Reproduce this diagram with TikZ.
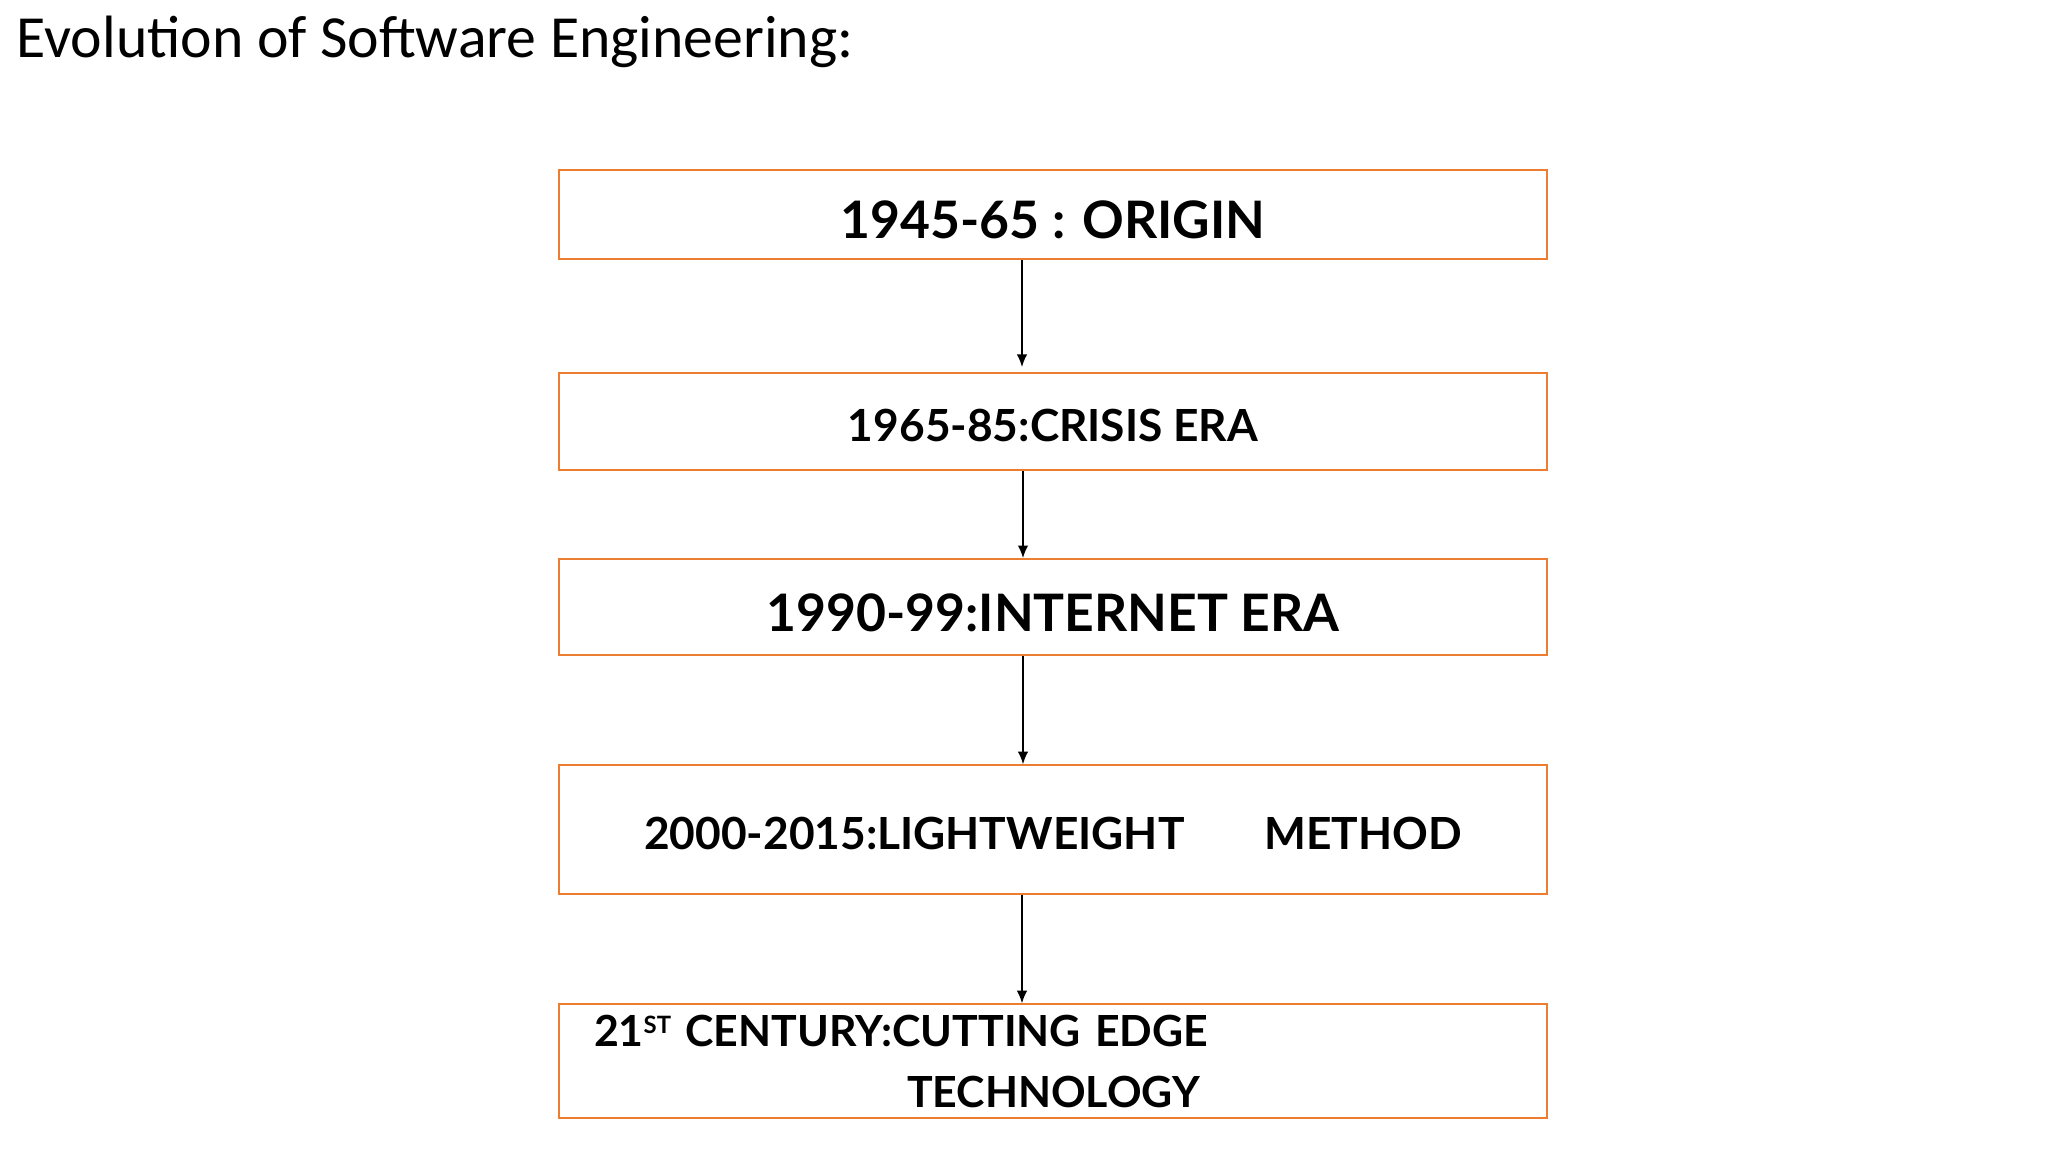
\documentclass[tikz,border=0pt]{standalone}
\usepackage{fontspec}
\setmainfont{Lato}
\newfontfamily\titlefont{Carlito}
\usetikzlibrary{positioning,arrows.meta}
\definecolor{eraorange}{HTML}{ED7D31}
\tikzstyle{era} = [rectangle, draw=eraorange, line width=0.6pt,
    minimum width=9.88cm, inner sep=0pt, text centered]
\tikzstyle{oneline} = [era, text height=0.48cm, text depth=0pt]
\tikzstyle{link} = [draw, -{Latex[length=3.6pt,width=3pt]}, line width=0.5pt]

\begin{document}
\begin{tikzpicture}
    \useasboundingbox (0,0) rectangle (20.48,-11.52);
    \node[anchor=base west, inner sep=0pt] (title) at (0.16,-0.58)
        {\titlefont\fontsize{17}{20}\selectfont Evolution of Software Engineering:};

    \node[oneline, minimum height=0.89cm, font=\bfseries\fontsize{14.7}{18}\selectfont] (origin) at (10.53,-2.145) {1945-65 : ORIGIN};
    \node[oneline, text height=0.39cm, minimum height=0.97cm, below=1.12cm of origin, font=\bfseries\fontsize{12.6}{15}\selectfont] (crisis) {1965-85:CRISIS ERA};
    \node[oneline, minimum height=0.96cm, below=0.87cm of crisis, font=\bfseries\fontsize{14.7}{18}\selectfont] (internet) {1990-99:INTERNET ERA};
    \node[oneline, text height=0.39cm, minimum height=1.29cm, below=1.08cm of internet, font=\bfseries\fontsize{12.6}{15}\selectfont] (lightweight) {2000-2015:LIGHTWEIGHT\hspace{0.8cm}METHOD};
    \node[era, minimum height=1.14cm, below=1.08cm of lightweight, inner xsep=0.35cm, text width=9.18cm, align=left,
        font=\bfseries\fontsize{12.2}{17.3}\selectfont] (cutting)
        {21\raisebox{0.3em}{\fontsize{6.8}{8}\selectfont ST} CENTURY:CUTTING EDGE\\\hspace*{3.13cm}TECHNOLOGY};

    \path[link] ([xshift=-0.31cm]origin.south) -- ([xshift=-0.31cm,yshift=0.05cm]crisis.north);
    \path[link] ([xshift=-0.30cm]crisis.south) -- ([xshift=-0.30cm]internet.north);
    \path[link] ([xshift=-0.30cm]internet.south) -- ([xshift=-0.30cm]lightweight.north);
    \path[link] ([xshift=-0.31cm]lightweight.south) -- ([xshift=-0.31cm]cutting.north);
\end{tikzpicture}
\end{document}
